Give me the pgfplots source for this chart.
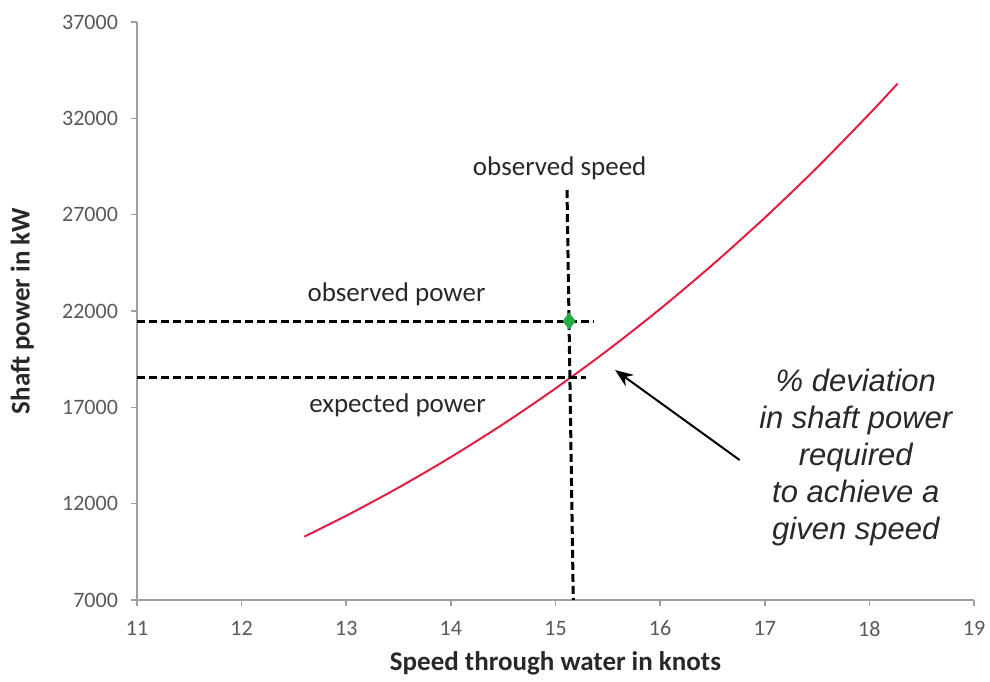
\documentclass[border=0pt]{standalone}
\usepackage{pgfplots}
\pgfplotsset{compat=1.18}
\usetikzlibrary{arrows.meta}
\usepackage{fontspec}
\setmainfont{Carlito}
\newfontfamily\arialfont{Liberation Sans}
\definecolor{curvered}{RGB}{225,30,65}
\definecolor{tickgray}{RGB}{89,89,89}
\definecolor{axisgray}{RGB}{160,160,160}
\definecolor{dotgreen}{RGB}{40,170,70}
\definecolor{txt}{RGB}{40,40,40}
\begin{document}
\begin{tikzpicture}
\begin{axis}[
  scale only axis, width=418.5pt, height=289pt,
  xmin=11, xmax=19, ymin=7000, ymax=37000,
  scaled x ticks=false, scaled y ticks=false,
  xtick={11,12,13,14,15,16,17,18,19},
  xticklabels={11,12,13,14,15,16,17,18,19},
  ytick={7000,12000,17000,22000,27000,32000,37000},
  yticklabels={7000,12000,17000,22000,27000,32000,37000},
  axis x line=bottom, axis y line=left,
  axis line style={-, draw=axisgray, line width=0.8pt},
  tick align=outside, major tick length=3pt,
  tick style={axisgray, line width=0.8pt},
  ticklabel style={font=\fontsize{11}{13}\selectfont, text=tickgray},
  yticklabel style={xshift=-3pt},
  xticklabel style={yshift=-4pt},
  xlabel={Speed through water in knots},
  ylabel={Shaft power in kW},
  label style={font=\fontsize{13.5}{15}\selectfont\bfseries, text=txt},
  xlabel style={at={(axis description cs:0.5,-0.109)}, anchor=center},
  ylabel style={at={(axis description cs:-0.137,0.5)}, anchor=center},
  clip=false,
]
\coordinate (bl) at (axis description cs:0,0);
\coordinate (tr) at (axis description cs:1,1);
\addplot[curvered, line width=1pt, smooth] coordinates {
 (12.6,10291) (13,11373) (13.5,12835) (14,14419) (14.5,16131) (15,17981)
 (15.5,19970) (16,22106) (16.5,24397) (17,26840) (17.5,29446) (18,32229) (18.27,33804)};
\addplot[black, line width=1.5pt, dash pattern=on 4pt off 2pt] coordinates {(15.11,28280) (15.17,7000)};
\addplot[black, line width=1.5pt, dash pattern=on 4pt off 2pt] coordinates {(11,21480) (15.36,21480)};
\addplot[black, line width=1.5pt, dash pattern=on 4pt off 2pt] coordinates {(11,18570) (15.29,18570)};
\addplot[only marks, mark=diamond*, mark size=4pt, dotgreen, mark options={draw=dotgreen, fill=dotgreen}] coordinates {(15.13,21480)};
\addplot[black, line width=1pt, -{Stealth[length=9pt,width=7pt]}] coordinates {(16.76,14265) (15.57,18935)};
\node[font=\fontsize{13.5}{16}\selectfont, text=txt] at (axis cs:15.04,29420) {observed speed};
\node[font=\fontsize{13.5}{16}\selectfont, text=txt] at (axis cs:13.48,22880) {observed power};
\node[font=\fontsize{13.5}{16}\selectfont, text=txt] at (axis cs:13.49,17120) {expected power};
\node[align=center, font=\arialfont\itshape\fontsize{15.5}{18.5}\selectfont, text=txt] at (axis cs:17.87,14420) {\% deviation\\in shaft power\\required\\to achieve a\\given speed};
\end{axis}
\pgfresetboundingbox
\path[use as bounding box] ([shift={(-68.5pt,-40.5pt)}]bl) rectangle ([shift={(8pt,11pt)}]tr);
\end{tikzpicture}
\end{document}
